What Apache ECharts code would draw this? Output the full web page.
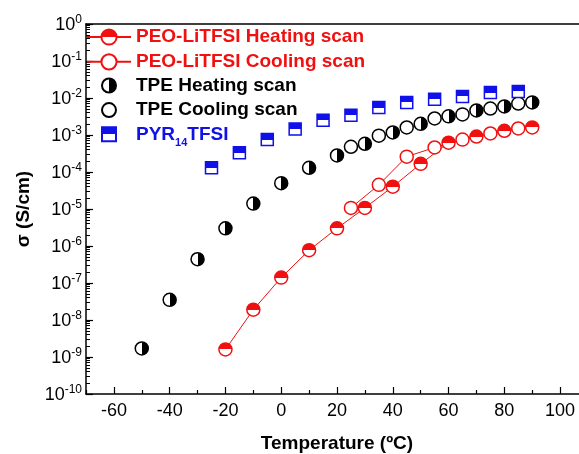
<!DOCTYPE html>
<html>
<head>
<meta charset="utf-8">
<script src="https://cdn.jsdelivr.net/npm/echarts@6/dist/echarts.min.js"></script>
<style>
html,body{margin:0;padding:0;background:#fff;}
#c{width:579px;height:454px;}
</style>
</head>
<body>
<div id="c"></div>
<script>
// ---- data ----
const peoHeatT = [-20, -10, 0, 10, 20, 30, 40, 50, 60, 70, 80, 90];
const peoHeat  = [1.6e-9, 1.9e-8, 1.4e-7, 7.7e-7, 3.0e-6, 1.07e-5, 4.0e-5, 1.66e-4, 6.2e-4, 9.1e-4, 1.3e-3, 1.6e-3];
const peoCoolT = [25, 35, 45, 55, 65, 75, 85];
const peoCool  = [1.07e-5, 4.5e-5, 2.6e-4, 4.6e-4, 7.5e-4, 1.1e-3, 1.5e-3];
const tpeHeatT = [-50, -40, -30, -20, -10, 0, 10, 20, 30, 40, 50, 60, 70, 80, 90];
const tpeHeat  = [1.7e-9, 3.5e-8, 4.4e-7, 3.0e-6, 1.4e-5, 5.0e-5, 1.3e-4, 2.8e-4, 5.8e-4, 1.17e-3, 2.0e-3, 3.2e-3, 4.6e-3, 5.9e-3, 7.6e-3];
const tpeCoolT = [25, 35, 45, 55, 65, 75, 85];
const tpeCool  = [4.8e-4, 9.6e-4, 1.6e-3, 2.8e-3, 3.6e-3, 5.2e-3, 7.1e-3];
const pyrT     = [-25, -15, -5, 5, 15, 25, 35, 45, 55, 65, 75, 85];
const pyr      = [1.3e-4, 3.3e-4, 7.5e-4, 1.45e-3, 2.5e-3, 3.4e-3, 5.5e-3, 7.6e-3, 9.2e-3, 1.1e-2, 1.4e-2, 1.5e-2];

const xMajorTicks = [-60, -40, -20, 0, 20, 40, 60, 80, 100];
const xMinorTicks = [-70, -50, -30, -10, 10, 30, 50, 70, 90];
const yDecadeExps = [-10, -9, -8, -7, -6, -5, -4, -3, -2, -1, 0];

const names = ['PEO-LiTFSI Heating scan', 'PEO-LiTFSI Cooling scan', 'TPE Heating scan', 'TPE Cooling scan', 'PYR14TFSI'];

// ---- helpers ----
const FONT = 'Liberation Sans, Arial, sans-serif';
const RED = '#f01010', BLUE = '#1010e8', BLACK = '#000';
const pairs = (xs, ys) => xs.map((x, i) => [x, ys[i]]);
const half = (c, dir) => ({
  type: 'linear', x: 0, y: 0, x2: dir === 'h' ? 1 : 0, y2: dir === 'h' ? 0 : 1,
  colorStops: dir === 'h'
    ? [{offset: 0, color: '#fff'}, {offset: 0.5, color: '#fff'}, {offset: 0.5, color: c}, {offset: 1, color: c}]
    : [{offset: 0, color: c}, {offset: 0.5, color: c}, {offset: 0.5, color: '#fff'}, {offset: 1, color: '#fff'}]
});
const yDecades = yDecadeExps.map(e => Math.pow(10, e));
const yMinor = [];
yDecadeExps.slice(0, -1).forEach(e => { for (let m = 2; m <= 9; m++) yMinor.push(m * Math.pow(10, e)); });

const chart = echarts.init(document.getElementById('c'), null, {renderer: 'canvas'});
chart.setOption({
  animation: false,
  backgroundColor: '#fff',
  grid: {left: 86, top: 24, width: 502, height: 370, outerBoundsMode: 'none', containLabel: false},
  xAxis: [{
    type: 'value', min: -70, max: 110, interval: 10, position: 'bottom',
    name: 'Temperature (ºC)', nameLocation: 'middle', nameGap: 40,
    nameTextStyle: {fontFamily: FONT, fontWeight: 'bold', fontSize: 19, color: '#000'},
    axisLine: {onZero: false, lineStyle: {color: '#000', width: 1.5}},
    axisTick: {inside: true, length: 7, lineStyle: {color: '#000', width: 1.2}, customValues: xMajorTicks},
    axisLabel: {fontFamily: FONT, fontSize: 18, color: '#000', margin: 8, customValues: xMajorTicks},
    splitLine: {show: false}
  }, {
    type: 'value', min: -70, max: 110, interval: 10, position: 'bottom',
    axisLine: {show: false, onZero: false},
    axisTick: {inside: true, length: 4, lineStyle: {color: '#000', width: 1.2}, customValues: xMinorTicks},
    axisLabel: {show: false},
    splitLine: {show: false}
  }, {
    type: 'value', min: -70, max: 110, interval: 10, position: 'top',
    axisLine: {show: true, onZero: false, lineStyle: {color: '#000', width: 1.5}},
    axisTick: {show: false},
    axisLabel: {show: false},
    splitLine: {show: false}
  }],
  yAxis: [{
    type: 'log', logBase: 10, min: 1e-10, max: 1, position: 'left',
    name: 'σ (S/cm)', nameLocation: 'middle', nameGap: 49,
    nameTextStyle: {fontFamily: FONT, fontWeight: 'bold', fontSize: 19, color: '#000'},
    axisLine: {show: true, onZero: false, lineStyle: {color: '#000', width: 1.5}},
    axisTick: {inside: true, length: 7, lineStyle: {color: '#000', width: 1.2}, customValues: yDecades},
    axisLabel: {
      customValues: yDecades, margin: 4,
      formatter: v => '{a|10}{b|' + Math.round(Math.log10(v)) + '}',
      rich: {
        a: {fontFamily: FONT, fontSize: 18, color: '#000', lineHeight: 20, verticalAlign: 'bottom'},
        b: {fontFamily: FONT, fontSize: 12, color: '#000', lineHeight: 12, verticalAlign: 'top'}
      }
    },
    splitLine: {show: false}
  }, {
    type: 'log', logBase: 10, min: 1e-10, max: 1, position: 'left',
    axisLine: {show: false, onZero: false},
    axisTick: {inside: true, length: 4, lineStyle: {color: '#000', width: 1}, customValues: yMinor},
    axisLabel: {show: false},
    splitLine: {show: false}
  }],
  legend: [{
    left: 81, top: 22.5, orient: 'vertical', itemWidth: 44, itemHeight: 19, itemGap: 5.8,
    textStyle: {fontFamily: FONT, fontWeight: 'bold', fontSize: 19, lineHeight: 18, color: RED},
    data: [names[0], names[1]]
  }, {
    left: 96, top: 71, orient: 'vertical', itemWidth: 14, itemHeight: 14, itemGap: 5.6,
    textStyle: {fontFamily: FONT, fontWeight: 'bold', fontSize: 19, lineHeight: 18, color: BLACK, padding: [0, 0, 0, 15]},
    formatter: n => n === 'PYR14TFSI' ? '{b|PYR}{s|14}{b|TFSI}' : n,
    data: [names[2], names[3], {name: names[4], textStyle: {
      color: BLUE,
      rich: {
        b: {fontFamily: FONT, fontWeight: 'bold', fontSize: 19, color: BLUE, lineHeight: 18, verticalAlign: 'top'},
        s: {fontFamily: FONT, fontWeight: 'bold', fontSize: 11, color: BLUE, lineHeight: 11, padding: [12, 0, 0, 0], verticalAlign: 'top'}
      }
    }}]
  }],
  series: [{
    name: names[0], type: 'line', xAxisIndex: 0, yAxisIndex: 0,
    data: pairs(peoHeatT, peoHeat), symbol: 'circle', symbolSize: 13, z: 3,
    lineStyle: {color: RED, width: 1},
    itemStyle: {color: half(RED, 'v'), borderColor: RED, borderWidth: 1.5}
  }, {
    name: names[1], type: 'line', xAxisIndex: 0, yAxisIndex: 0,
    data: pairs(peoCoolT, peoCool), symbol: 'circle', symbolSize: 13, z: 3,
    lineStyle: {color: RED, width: 1},
    itemStyle: {color: '#fff', borderColor: RED, borderWidth: 1.5}
  }, {
    name: names[2], type: 'scatter', xAxisIndex: 0, yAxisIndex: 0,
    data: pairs(tpeHeatT, tpeHeat), symbol: 'circle', symbolSize: 13, z: 4,
    itemStyle: {color: half(BLACK, 'h'), borderColor: BLACK, borderWidth: 1.5, opacity: 1}
  }, {
    name: names[3], type: 'scatter', xAxisIndex: 0, yAxisIndex: 0,
    data: pairs(tpeCoolT, tpeCool), symbol: 'circle', symbolSize: 13, z: 4,
    itemStyle: {color: '#fff', borderColor: BLACK, borderWidth: 1.5, opacity: 1}
  }, {
    name: names[4], type: 'scatter', xAxisIndex: 0, yAxisIndex: 0,
    data: pairs(pyrT, pyr), symbol: 'rect', symbolSize: 12, z: 4,
    itemStyle: {color: half(BLUE, 'v'), borderColor: BLUE, borderWidth: 1.5, opacity: 1}
  }]
});
</script>
</body>
</html>
